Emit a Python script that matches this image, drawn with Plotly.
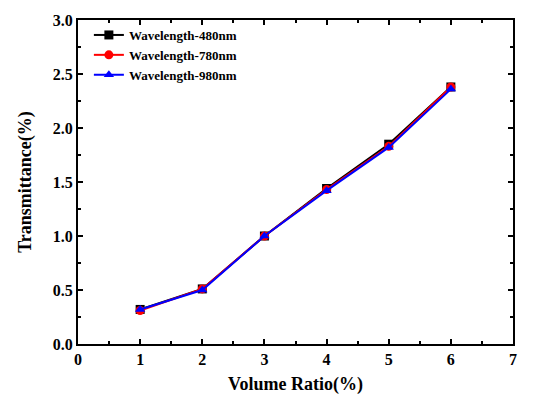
import plotly.graph_objects as go

volume_ratio = [1, 2, 3, 4, 5, 6]
trans_480 = [0.32, 0.51, 1.00, 1.44, 1.85, 2.38]
trans_780 = [0.31, 0.51, 1.00, 1.43, 1.83, 2.38]
trans_980 = [0.32, 0.50, 1.00, 1.42, 1.82, 2.36]
series_names = ["Wavelength-480nm", "Wavelength-780nm", "Wavelength-980nm"]

font_family = "Liberation Serif, Times New Roman, serif"

fig = go.Figure()
styles = [("black", "square"), ("red", "circle"), ("blue", "triangle-up")]
for name, ys, (color, symbol) in zip(series_names, [trans_480, trans_780, trans_980], styles):
    fig.add_trace(go.Scatter(
        x=volume_ratio, y=ys, name=name, mode="lines+markers",
        line=dict(color=color, width=2),
        marker=dict(color=color, symbol=symbol, size=9),
    ))

axis_common = dict(
    showline=True, linecolor="black", linewidth=2, mirror="ticks",
    ticks="inside", ticklen=5, tickwidth=2, tickcolor="black",
    showgrid=False, zeroline=False,
    tickfont=dict(family=font_family, size=16, color="black", weight="bold"),
)

fig.update_xaxes(
    range=[0, 7], dtick=1, tick0=0,
    minor=dict(dtick=0.5, ticks="inside", ticklen=3, tickwidth=2, tickcolor="black"),
    title=dict(text="Volume Ratio(%)", font=dict(family=font_family, size=18, color="black", weight="bold"), standoff=10),
    **axis_common,
)
fig.update_yaxes(
    range=[0, 3], dtick=0.5, tick0=0, tickformat=".1f",
    minor=dict(dtick=0.25, ticks="inside", ticklen=3, tickwidth=2, tickcolor="black"),
    title=dict(text="Transmittance(%)", font=dict(family=font_family, size=18, color="black", weight="bold"), standoff=16),
    **axis_common,
)

fig.update_layout(
    width=536, height=403,
    margin=dict(l=78, r=23, t=15, b=58),
    paper_bgcolor="white", plot_bgcolor="white",
    font=dict(family=font_family, color="black"),
    legend=dict(
        x=0.025, y=1.0, xanchor="left", yanchor="top",
        bgcolor="rgba(0,0,0,0)", borderwidth=0,
        font=dict(family=font_family, size=13, color="black", weight="bold"),
        tracegroupgap=0, itemwidth=30,
    ),
)

fig.write_html("out.html")
